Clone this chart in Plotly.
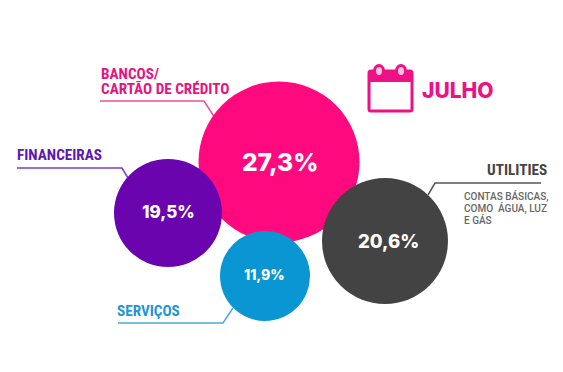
import plotly.graph_objects as go

# data
categories = ["BANCOS/<br>CARTÃO DE CRÉDITO", "FINANCEIRAS", "UTILITIES", "SERVIÇOS"]
shares = [27.3, 19.5, 20.6, 11.9]
share_labels = ["27,3%", "19,5%", "20,6%", "11,9%"]
month = "JULHO"
note = "CONTAS BÁSICAS,<br>COMO  ÁGUA, LUZ<br>E GÁS"

# layout of the infographic (pixel space)
cx = [279, 168, 385, 265]
cy = [162, 213, 241, 276]
diam = [161, 108, 126, 90]
colors = ["#FF0A7E", "#6A04AE", "#434343", "#0A96D2"]
label_colors = ["#E5127F", "#5E17B0", "#444444", "#1E96D0"]
line_colors = ["#EE4FA0", "#7E3FC0", "#555555", "#4FA8D8"]
num_sizes = [24.5, 17, 18.5, 14]
num_pos = [(280, 162), (168, 212), (388, 241), (264, 274)]
leaders = [
    ([100, 204, 215], [101, 101, 118]),
    ([17, 122, 128], [168, 168, 178]),
    ([541, 435, 428], [183, 183, 195]),
    ([118, 223, 233], [323, 323, 308]),
]
label_pos = [(99, 74), (15, 155), (549, 170), (115, 311)]
label_anchor = ["left", "left", "right", "left"]

fig = go.Figure()
for xs, ys, c in zip([l[0] for l in leaders], [l[1] for l in leaders], line_colors):
    fig.add_trace(go.Scatter(x=xs, y=ys, mode="lines", line=dict(color=c, width=1.5),
                             hoverinfo="skip", showlegend=False))
for i in range(4):
    fig.add_trace(go.Scatter(
        x=[cx[i]], y=[cy[i]], mode="markers",
        marker=dict(size=diam[i], color=colors[i], line=dict(width=0)),
        name=categories[i], customdata=[shares[i]], showlegend=False))

ann = []
for (x, y), t, s in zip(num_pos, share_labels, num_sizes):
    ann.append(dict(x=x, y=y, text=t, showarrow=False, xanchor="center", yanchor="middle",
                    font=dict(family="Inter", size=s, color="white", weight=800)))
for (x, y), t, c, a in zip(label_pos, categories, label_colors, label_anchor):
    for j, part in enumerate(t.split("<br>")):
        ann.append(dict(x=x, y=y + j * 15, text=f"<b>{part}</b>", showarrow=False, xanchor=a,
                        yanchor="middle", align=a,
                        font=dict(family="Roboto Condensed, Roboto", size=15.2, color=c)))
for j, part in enumerate(note.split("<br>")):
    ann.append(dict(x=462, y=196 + j * 12, text=part, showarrow=False, xanchor="left", yanchor="middle",
                    font=dict(family="Roboto", size=10, color="#666666", weight=500)))
ann.append(dict(x=420, y=90, text=month, showarrow=False, xanchor="left", yanchor="middle",
                font=dict(family="Inter", size=21, color="#EE1185", weight=800)))

pink = "#EE1185"
def rrect(x0, y0, x1, y1, r):
    return (f"M{x0+r},{y0} L{x1-r},{y0} Q{x1},{y0} {x1},{y0+r} L{x1},{y1-r} Q{x1},{y1} {x1-r},{y1} "
            f"L{x0+r},{y1} Q{x0},{y1} {x0},{y1-r} L{x0},{y0+r} Q{x0},{y0} {x0+r},{y0} Z")
shapes = [
    dict(type="path", path=rrect(369, 71, 412, 111, 2), line=dict(color=pink, width=3), fillcolor="white"),
    dict(type="rect", x0=368, x1=413, y0=71, y1=82, line=dict(width=0), fillcolor=pink),
    dict(type="circle", x0=373, x1=385, y0=64, y1=78, line=dict(width=0), fillcolor=pink),
    dict(type="circle", x0=395, x1=407, y0=64, y1=78, line=dict(width=0), fillcolor=pink),
    dict(type="circle", x0=376, x1=382, y0=67, y1=75, line=dict(width=0), fillcolor="#F8C4DE"),
    dict(type="circle", x0=398, x1=404, y0=67, y1=75, line=dict(width=0), fillcolor="#F8C4DE"),
]

fig.update_layout(
    width=563, height=372, margin=dict(l=0, r=0, t=0, b=0),
    paper_bgcolor="white", plot_bgcolor="white",
    xaxis=dict(range=[0, 563], visible=False, fixedrange=True),
    yaxis=dict(range=[372, 0], visible=False, fixedrange=True),
    annotations=ann, shapes=shapes, showlegend=False,
)
fig.write_html("out.html", config={"displayModeBar": False},
               post_script="document.body.style.margin='0';document.body.style.overflow='hidden';")
